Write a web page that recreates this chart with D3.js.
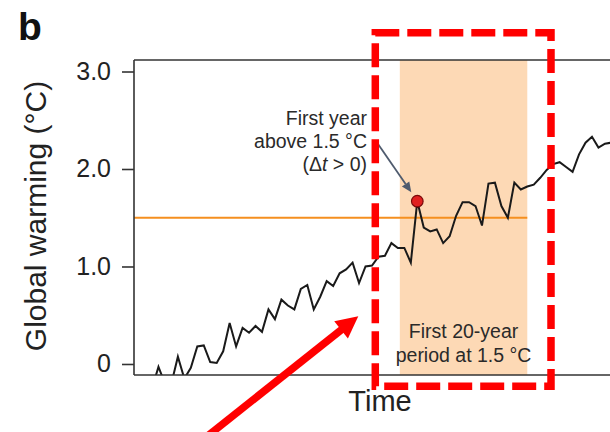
<!DOCTYPE html>
<html>
<head>
<meta charset="utf-8">
<script src="https://cdn.jsdelivr.net/npm/d3@7"></script>
<style>
  html, body { margin: 0; padding: 0; background: #fff; }
  svg { display: block; font-family: "Liberation Sans", Arial, Helvetica, sans-serif; }
</style>
</head>
<body>
<svg id="chart" width="610" height="432"></svg>
<script>
// ---------------- DATA ----------------
const years = [1950,1951,1952,1953,1954,1955,1956,1957,1958,1959,
  1960,1961,1962,1963,1964,1965,1966,1967,1968,1969,
  1970,1971,1972,1973,1974,1975,1976,1977,1978,1979,
  1980,1981,1982,1983,1984,1985,1986,1987,1988,1989,
  1990,1991,1992,1993,1994,1995,1996,1997,1998,1999,
  2000,2001,2002,2003,2004,2005,2006,2007,2008,2009,
  2010,2011,2012,2013,2014,2015,2016,2017,2018,2019,
  2020,2021];
const warming = [-0.25,-0.03,-0.20,-0.20,0.075,-0.15,-0.04,0.18,0.19,0.02,
  0.01,0.13,0.42,0.18,0.37,0.32,0.39,0.33,0.56,0.46,
  0.66,0.60,0.56,0.77,0.81,0.56,0.69,0.85,0.80,0.93,
  0.97,1.04,0.83,1.00,1.01,1.10,1.11,1.24,1.19,1.19,
  1.04,1.67,1.40,1.36,1.38,1.24,1.31,1.52,1.66,1.66,
  1.62,1.42,1.85,1.86,1.62,1.50,1.86,1.79,1.82,1.84,
  1.91,1.99,2.05,2.07,2.02,1.97,2.15,2.27,2.33,2.22,
  2.26,2.27];
const threshold = 1.5;
const firstYearAbove = 1991;
const periodRange = [1988.3, 2008.0];
const yTickValues = [0, 1, 2, 3];
const yTickLabels = ["0", "1.0", "2.0", "3.0"];
const xLabel = "Time";
const yLabel = "Global warming (°C)";
const panelLabel = "b";
const noteFirstYear = ["First year", "above 1.5 °C", "(Δt > 0)"];
const notePeriod = ["First 20-year", "period at 1.5 °C"];

// ---------------- LAYOUT ----------------
const plot = { left: 134, right: 612, top: 60, bottom: 375 };
const svg = d3.select("#chart");

const x = d3.scaleLinear().domain([1950, 2021]).range([152, 611.4]);
const y = d3.scaleLinear().domain([-0.113, 3.118]).range([plot.bottom, plot.top]);

svg.append("defs").append("clipPath").attr("id", "plotClip")
  .append("rect").attr("x", plot.left).attr("y", plot.top)
  .attr("width", plot.right - plot.left).attr("height", plot.bottom - plot.top);

// shaded 20-year period
svg.append("rect")
  .attr("x", x(periodRange[0])).attr("y", plot.top)
  .attr("width", x(periodRange[1]) - x(periodRange[0]))
  .attr("height", plot.bottom - plot.top)
  .attr("fill", "#fdd9b5");

// threshold line
svg.append("line")
  .attr("x1", plot.left).attr("x2", x(periodRange[1]))
  .attr("y1", y(threshold)).attr("y2", y(threshold))
  .attr("stroke", "#f58f1f").attr("stroke-width", 1.8);

// warming series
const lineGen = d3.line().x((d, i) => x(years[i])).y(d => y(d));
svg.append("path")
  .datum(warming)
  .attr("clip-path", "url(#plotClip)")
  .attr("d", lineGen)
  .attr("fill", "none")
  .attr("stroke", "#1a1a1a")
  .attr("stroke-width", 2)
  .attr("stroke-linejoin", "miter");

// axes frame
const frame = svg.append("g").attr("stroke", "#333").attr("stroke-width", 1.6).attr("fill", "none");
frame.append("line").attr("x1", plot.left).attr("x2", plot.left).attr("y1", plot.top).attr("y2", plot.bottom);
frame.append("line").attr("x1", plot.left).attr("x2", 610).attr("y1", plot.top).attr("y2", plot.top);
frame.append("line").attr("x1", plot.left).attr("x2", 610).attr("y1", plot.bottom).attr("y2", plot.bottom);

// y axis ticks
const yAxis = d3.axisLeft(y).tickValues(yTickValues)
  .tickFormat((d, i) => yTickLabels[i]).tickSize(12).tickPadding(11);
const gy = svg.append("g").attr("transform", `translate(${plot.left},0)`).call(yAxis);
gy.select(".domain").remove();
gy.selectAll(".tick line").attr("stroke", "#333").attr("stroke-width", 1.6);
gy.selectAll(".tick text").attr("font-size", 25).attr("fill", "#222")
  .attr("font-family", "Liberation Sans, Arial, sans-serif");

// axis titles
svg.append("text").attr("x", 380).attr("y", 411).attr("text-anchor", "middle")
  .attr("font-size", 29).attr("fill", "#222").text(xLabel);
svg.append("text").attr("transform", "translate(46,216) rotate(-90)")
  .attr("text-anchor", "middle").attr("font-size", 30).attr("fill", "#222").text(yLabel);

// panel label
svg.append("text").attr("x", 18).attr("y", 40).attr("font-size", 39)
  .attr("font-weight", "bold").attr("fill", "#111").text(panelLabel);

// period note
const pMid = (x(periodRange[0]) + x(periodRange[1])) / 2;
notePeriod.forEach((t, i) => {
  svg.append("text").attr("x", pMid).attr("y", 338 + i * 23.5)
    .attr("text-anchor", "middle").attr("font-size", 19.5).attr("fill", "#2a2a2a").text(t);
});

// first-year note
const fyIdx = years.indexOf(firstYearAbove);
const px = x(firstYearAbove), py = y(warming[fyIdx]);
const noteG = svg.append("g").attr("font-size", 19.5).attr("fill", "#2a2a2a").attr("text-anchor", "end");
noteG.append("text").attr("x", 367).attr("y", 125).text(noteFirstYear[0]);
noteG.append("text").attr("x", 367).attr("y", 148).text(noteFirstYear[1]);
const t3 = noteG.append("text").attr("x", 367).attr("y", 171);
t3.append("tspan").text("(Δ");
t3.append("tspan").attr("font-style", "italic").text("t");
t3.append("tspan").text(" > 0)");

// grey arrow to first year
const ax0 = 378, ay0 = 144;
const tipX = px - 6, tipY = py - 9;
{
  const dx = tipX - ax0, dy = tipY - ay0, len = Math.hypot(dx, dy);
  const ux = dx / len, uy = dy / len, L = 10, W = 4.5;
  const bx = tipX - ux * L, by = tipY - uy * L;
  svg.append("line").attr("x1", ax0).attr("y1", ay0).attr("x2", bx).attr("y2", by)
    .attr("stroke", "#4f5b6e").attr("stroke-width", 1.8);
  svg.append("path").attr("d", `M${tipX},${tipY}L${bx - uy * W},${by + ux * W}L${bx + uy * W},${by - ux * W}Z`)
    .attr("fill", "#4f5b6e");
}

// red dot
svg.append("circle").attr("cx", px).attr("cy", py).attr("r", 5.8)
  .attr("fill", "#e02020").attr("stroke", "#7a0a0a").attr("stroke-width", 1.2);

// red dashed highlight box (overlay)
svg.append("rect").attr("x", 375.3).attr("y", 32.8).attr("width", 175.7).attr("height", 353.5)
  .attr("fill", "none").attr("stroke", "#ff0000").attr("stroke-width", 7.5)
  .attr("stroke-dasharray", "24,8");

// red arrow (overlay)
{
  const sx = 200, sy = 442, tx = 358.3, ty = 316.3;
  const dx = tx - sx, dy = ty - sy, len = Math.hypot(dx, dy);
  const ux = dx / len, uy = dy / len, L = 22, W = 11;
  const bx = tx - ux * L, by = ty - uy * L;
  svg.append("line").attr("x1", sx).attr("y1", sy).attr("x2", bx + ux * 2).attr("y2", by + uy * 2)
    .attr("stroke", "#ff0000").attr("stroke-width", 7.5);
  svg.append("path").attr("d", `M${tx},${ty}L${bx - uy * W},${by + ux * W}L${bx + uy * W},${by - ux * W}Z`)
    .attr("fill", "#ff0000");
}
</script>
</body>
</html>
